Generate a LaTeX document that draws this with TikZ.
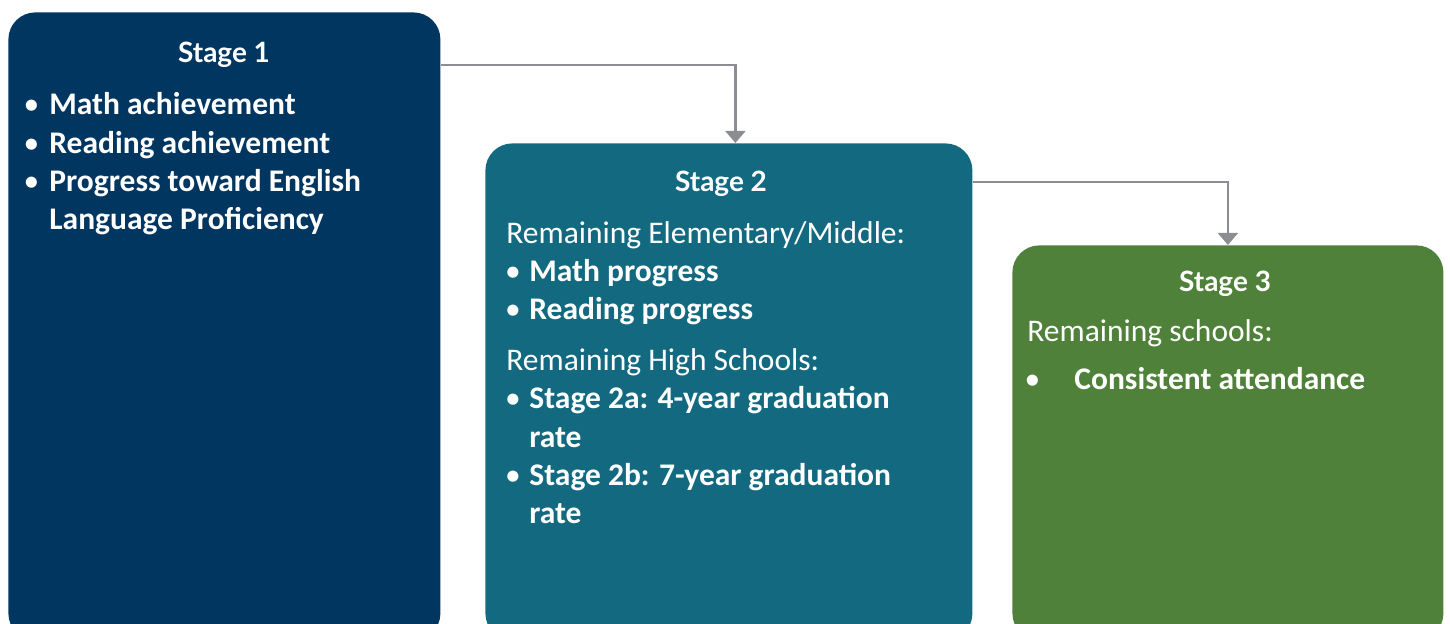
\documentclass[tikz,border=0pt]{standalone}
\usepackage{fontspec}
\setmainfont{Carlito}
\newfontfamily\headfont{Lato}
\usetikzlibrary{arrows.meta}
\definecolor{navy}{RGB}{0,54,96}
\definecolor{teal2}{RGB}{19,106,128}
\definecolor{green2}{RGB}{79,129,58}
\definecolor{conngray}{RGB}{139,141,147}
\begin{document}
\begin{tikzpicture}[x=0.5pt,y=-0.5pt,
  box/.style={rounded corners=13.5pt, draw=none, anchor=north west, inner sep=0pt},
  head/.style={anchor=base, inner sep=0pt, text=white, font=\headfont\bfseries\fontsize{14pt}{17pt}\selectfont},
  txt/.style={anchor=base west, inner sep=0pt, text=white, font=\fontsize{15.75pt}{19.15pt}\selectfont},
  btxt/.style={txt, font=\bfseries\fontsize{15.75pt}{19.15pt}\selectfont},
  bul/.style={anchor=base, inner sep=0pt, text=white, font=\fontsize{15.75pt}{19.15pt}\selectfont},
  conn/.style={draw=conngray, line width=1.1pt, -{Triangle[width=10pt,length=6pt]}}]
\useasboundingbox (0,0) rectangle (1450,624);
\clip (0,0) rectangle (1450,624);
\node[box, fill=navy, minimum width=216pt, minimum height=314pt] (s1) at (8,12) {};
\node[box, fill=teal2, minimum width=243.5pt, minimum height=248.5pt] (s2) at (485,143) {};
\node[box, fill=green2, minimum width=215.5pt, minimum height=197.5pt] (s3) at (1012,245) {};
% connectors
\draw[conn] ([yshift=-26.5pt]s1.north east) -| ([xshift=3.25pt]s2.north);
\draw[conn] ([yshift=-19.5pt]s2.north east) -| (s3.north);
% Stage 1
\node[head] (h1) at (224,63) {Stage 1};
\node[bul] (b11) at (31.5,114.8) {•};
\node[btxt] (t11) at (49,114.8) {Math achievement};
\node[bul] (b12) at (31.5,153.2) {•};
\node[btxt] (t12) at (49,153.2) {Reading achievement};
\node[bul] (b13) at (31.5,191.5) {•};
\node[btxt] (t13) at (49,191.5) {Progress toward English};
\node[btxt] (t14) at (49,229.8) {Language Proficiency};
% Stage 2
\node[head] (h2) at (721,191.7) {Stage 2};
\node[txt] (t21) at (506,243.3) {Remaining Elementary/Middle:};
\node[bul] (b21) at (513,281.5) {•};
\node[btxt] (t22) at (529,281.5) {Math progress};
\node[bul] (b22) at (513,319.8) {•};
\node[btxt] (t23) at (529,319.8) {Reading progress};
\node[txt] (t24) at (506,370.5) {Remaining High Schools:};
\node[bul] (b23) at (513,408.8) {•};
\node[btxt] (t25) at (529,408.8) {Stage 2a: 4-year graduation};
\node[btxt] (t26) at (529,447.5) {rate};
\node[bul] (b24) at (513,486) {•};
\node[btxt] (t27) at (529,486) {Stage 2b: 7-year graduation};
\node[btxt] (t28) at (529,523.5) {rate};
% Stage 3
\node[head] (h3) at (1225,291.7) {Stage 3};
\node[txt] (t31) at (1027,341.7) {Remaining schools:};
\node[bul] (b31) at (1032.5,390) {•};
\node[btxt] (t32) at (1074,390) {Consistent attendance};
\end{tikzpicture}
\end{document}
